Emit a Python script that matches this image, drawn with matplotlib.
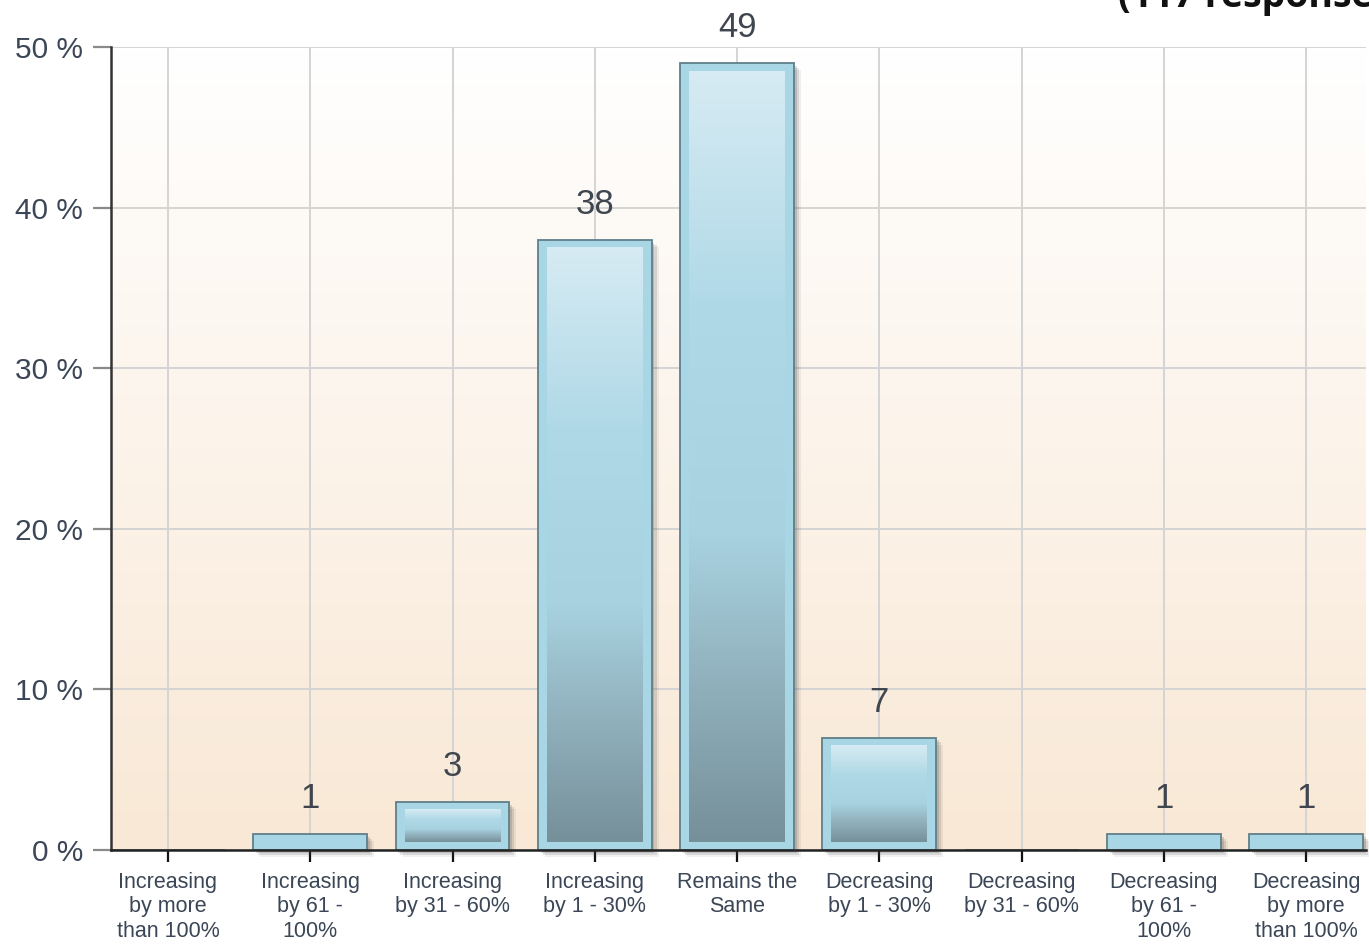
import numpy as np
import matplotlib
matplotlib.use("Agg")
import matplotlib.pyplot as plt
import matplotlib.patheffects as pe
from matplotlib.colors import LinearSegmentedColormap

# data
categories = [
    "Increasing\nby more\nthan 100%",
    "Increasing\nby 61 -\n100%",
    "Increasing\nby 31 - 60%",
    "Increasing\nby 1 - 30%",
    "Remains the\nSame",
    "Decreasing\nby 1 - 30%",
    "Decreasing\nby 31 - 60%",
    "Decreasing\nby 61 -\n100%",
    "Decreasing\nby more\nthan 100%",
]
percent = [0, 1, 3, 38, 49, 7, 0, 1, 1]
y_ticks = [0, 10, 20, 30, 40, 50]
title = "(117 responses)"

TEXT = "#3b4656"
plt.rcParams["font.family"] = ["Liberation Sans", "DejaVu Sans"]

fig = plt.figure(figsize=(13.69, 9.46), dpi=100)
ax = fig.add_axes([0.0811, 0.1015, 0.9167, 0.8488])

x = np.arange(len(categories))
width = 0.8

# background gradient (white at top to peach at bottom)
bg = LinearSegmentedColormap.from_list("bg", ["#f9e8d5", "#ffffff"])
ax.imshow(np.linspace(0, 1, 256).reshape(-1, 1), cmap=bg, origin="lower",
          extent=(0, 1, 0, 1), transform=ax.transAxes, aspect="auto", zorder=-2)

ax.set_axisbelow(True)
ax.grid(True, color="#d4d4d4", linewidth=1.4)

# bars: outer frame + inner gradient, soft shadow to lower right
shadow = [pe.SimplePatchShadow(offset=(2, -2), shadow_rgbFace="#444", alpha=0.18),
          pe.SimplePatchShadow(offset=(3.5, -3.5), shadow_rgbFace="#444", alpha=0.14),
          pe.SimplePatchShadow(offset=(5, -5), shadow_rgbFace="#444", alpha=0.08),
          pe.Normal()]
bars = ax.bar(x, percent, width=width, color="#a9d6e4", edgecolor="#5f7f8a",
              linewidth=1.3, zorder=2, clip_on=False)
for b in bars:
    b.set_path_effects(shadow)

inner = LinearSegmentedColormap.from_list("inner", [
    (0.0, "#d6ebf3"), (0.3, "#b0d9e7"), (0.6, "#a8d2e0"),
    (0.78, "#92b3bf"), (1.0, "#76909a")])
grad = np.linspace(0, 1, 256).reshape(-1, 1)
ix = 9 / 142.25   # inner inset, ~9 px
iy = 8 / 16.06    # inner inset, ~8 px
for xi, h in zip(x, percent):
    if h - 2 * iy <= 0.6:
        continue
    ax.imshow(grad, cmap=inner, origin="upper", aspect="auto", zorder=3,
              extent=(xi - width / 2 + ix, xi + width / 2 - ix, iy, h - iy))

ax.set_xlim(-0.40, 8.42)
ax.set_ylim(0, 50)

for xi, h in zip(x, percent):
    if h > 0:
        ax.annotate(str(h), xy=(xi, h), xytext=(0, 18.5), textcoords="offset points",
                    ha="center", va="baseline", fontsize=25, color="#3f4650",
                    zorder=5, annotation_clip=False)

ax.set_xticks(x)
ax.set_xticklabels(categories, fontsize=15.5, color=TEXT, linespacing=1.22, va="top")
ax.set_yticks(y_ticks)
ax.set_yticklabels([f"{v} %" for v in y_ticks], fontsize=21.5, color=TEXT)
ax.tick_params(axis="x", length=8.5, width=1.6, color="#111111", pad=7)
ax.tick_params(axis="y", length=13, width=1.6, color="#8a8a8a", pad=7)

for s in ("top", "right"):
    ax.spines[s].set_visible(False)
ax.spines["left"].set_color("#333333")
ax.spines["left"].set_linewidth(1.8)
ax.spines["bottom"].set_color("#222222")
ax.spines["bottom"].set_linewidth(1.8)
ax.spines["bottom"].set_zorder(4)

fig.text(1118 / 1369, 1 - 7 / 946, title, ha="left", va="baseline",
         fontsize=27, fontweight="bold", family=["Open Sans", "DejaVu Sans"],
         color="#111111")

fig.savefig("out.png", dpi=100)
